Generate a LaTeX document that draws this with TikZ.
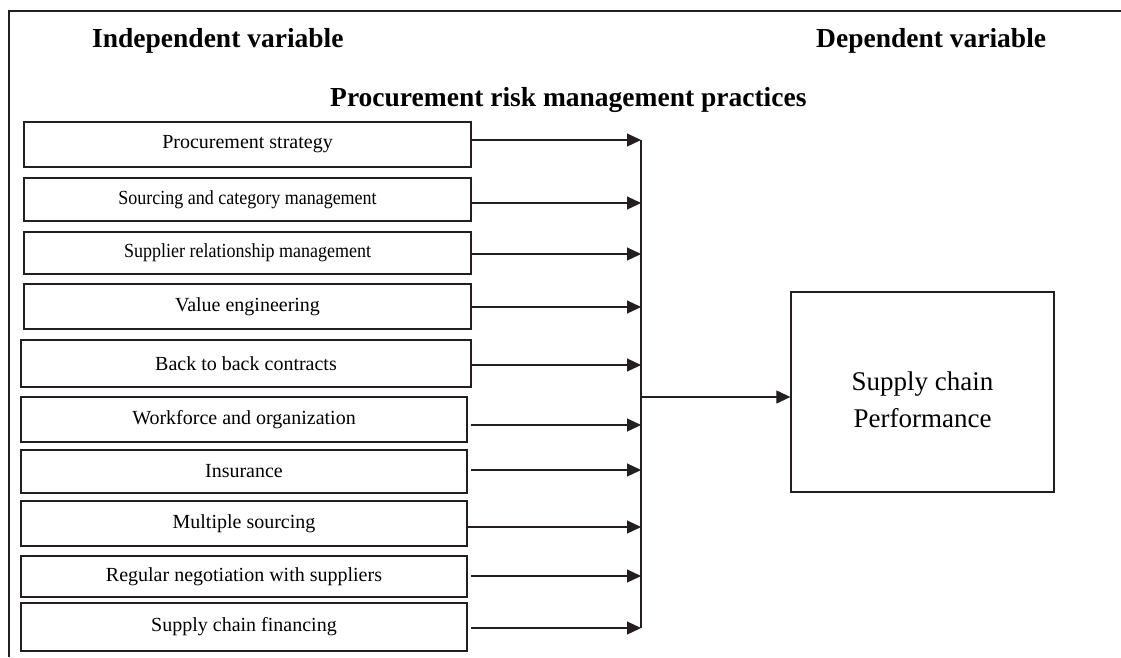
\documentclass[tikz,border=0pt]{standalone}
\usepackage{graphicx}
\usepackage{fontspec}
\setmainfont{Liberation Serif}
\usetikzlibrary{arrows.meta}
\definecolor{linec}{HTML}{231F20}
\newcommand{\narrowtext}[1]{\scalebox{0.9}[1]{#1}}
\begin{document}
\begin{tikzpicture}[x=1pt,y=-1pt,
  ivbox/.style={draw=linec, line width=1.3pt, inner sep=0pt, align=center,
    minimum width=#1, font=\fontsize{20}{23}\selectfont},
  ivbox/.default=447pt,
  dvbox/.style={draw=linec, line width=1.3pt, inner sep=0pt, align=center,
    minimum width=263pt, minimum height=200pt,
    font=\fontsize{27}{37}\selectfont},
  heading/.style={anchor=base west, inner sep=0pt, font=\fontsize{27.5}{32}\selectfont\bfseries},
  arr/.style={draw=linec, line width=1.2pt, -{Triangle[length=14pt,width=13pt]}},
  frame/.style={draw=linec, line width=1.5pt}
]
\useasboundingbox (0,0) rectangle (1121,657);
% outer frame (left and top)
\coordinate (fb) at (9,657);
\coordinate (ftl) at (9,11);
\coordinate (fr) at (1121,11);
\draw[frame] (fb) -- (ftl) -- (fr);

% headings
\node[heading] (hiv) at (92,47) {Independent variable};
\node[heading] (hdv) at (816,47) {Dependent variable};
\node[heading] (hpr) at (330,106) {Procurement risk management practices};

% independent variable boxes
\node[ivbox, minimum height=45pt] (b1) at (247.5,144.5) {Procurement strategy};
\node[ivbox, minimum height=43pt] (b2) at (247.5,199.5) {\narrowtext{Sourcing and category management}};
\node[ivbox, minimum height=42pt] (b3) at (247.5,253) {\narrowtext{Supplier relationship management}};
\node[ivbox, minimum height=45pt] (b4) at (247.5,306.5) {Value engineering};
\node[ivbox=450pt, minimum height=47pt] (b5) at (246,363.5) {Back to back contracts};
\node[ivbox=446pt, minimum height=45pt] (b6) at (244,419.5) {Workforce and organization};
\node[ivbox=446pt, minimum height=43pt] (b7) at (244,471.5) {Insurance};
\node[ivbox=446pt, minimum height=45pt] (b8) at (244,523.5) {Multiple sourcing};
\node[ivbox=446pt, minimum height=41pt] (b9) at (244,576.5) {Regular negotiation with suppliers};
\node[ivbox=446pt, minimum height=48pt] (b10) at (244,627) {Supply chain financing};

% dependent variable box
\node[dvbox] (scp) at (922.5,392) {\rule{0pt}{35pt}Supply chain\\Performance};

% bus line
\coordinate (bt) at (641,140);
\coordinate (bb) at (641,628);
\coordinate (bj) at (641,397);
\draw[draw=linec, line width=1.3pt] (bt) -- (bb);

% arrows into the bus
\draw[arr] ([yshift=4.5pt]b1.east) -- ([yshift=4.5pt]b1.east -| bt);
\draw[arr] ([yshift=-3.5pt]b2.east) -- ([yshift=-3.5pt]b2.east -| bt);
\draw[arr] ([yshift=-1pt]b3.east) -- ([yshift=-1pt]b3.east -| bt);
\draw[arr] ([yshift=-0.5pt]b4.east) -- ([yshift=-0.5pt]b4.east -| bt);
\draw[arr] ([yshift=-1.5pt]b5.east) -- ([yshift=-1.5pt]b5.east -| bt);
\draw[arr] ([xshift=3pt,yshift=-5.5pt]b6.east) -- ([yshift=-5.5pt]b6.east -| bt);
\draw[arr] ([xshift=3pt,yshift=1.5pt]b7.east) -- ([yshift=1.5pt]b7.east -| bt);
\draw[arr] ([yshift=-3.5pt]b8.east) -- ([yshift=-3.5pt]b8.east -| bt);
\draw[arr] ([xshift=3pt,yshift=0.5pt]b9.east) -- ([yshift=0.5pt]b9.east -| bt);
\draw[arr] ([xshift=3pt,yshift=-1pt]b10.east) -- ([yshift=-1pt]b10.east -| bt);

% arrow to dependent variable
\draw[arr] (bj) -- ([yshift=-5pt]scp.west);
\end{tikzpicture}
\end{document}
